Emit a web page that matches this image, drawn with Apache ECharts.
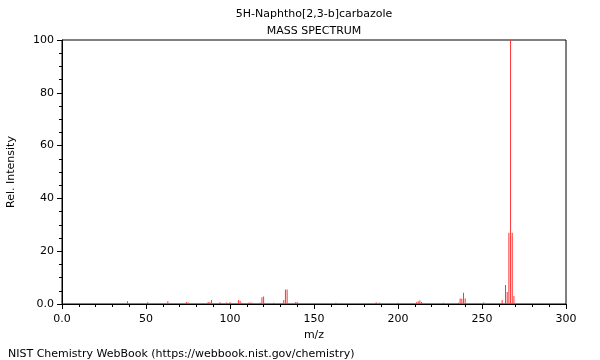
<!DOCTYPE html>
<html>
<head>
<meta charset="utf-8">
<script src="https://cdn.jsdelivr.net/npm/echarts@6/dist/echarts.min.js"></script>
<style>html,body{margin:0;padding:0;background:#fff}#c{width:600px;height:360px}</style>
</head>
<body>
<div id="c"></div>
<script>
const titleText = "5H-Naphtho[2,3-b]carbazole";
const subtitleText = "MASS SPECTRUM";
const footerText = "NIST Chemistry WebBook (https://webbook.nist.gov/chemistry)";
const xTickLabels = {0: "0.0"};
const yTickLabels = {0: "0.0"};
const mz = [39, 51, 63, 74, 75, 87, 88, 89, 94, 98, 100, 105, 106, 107, 111, 112, 113, 118, 119, 120, 126, 132, 133, 134, 139, 140, 163, 187, 189, 200, 211, 212, 213, 214, 227, 236, 237, 238, 239, 240, 251, 262, 264, 265, 266, 267, 268, 269];
const intensity = [1.0, 0.7, 1.0, 0.8, 0.6, 0.8, 0.7, 1.5, 0.7, 0.6, 0.7, 1.5, 1.2, 0.5, 0.5, 0.6, 0.5, 0.5, 2.6, 2.8, 0.5, 1.5, 5.5, 5.5, 0.7, 0.8, 0.5, 0.7, 0.5, 0.5, 0.7, 1.0, 1.3, 0.8, 0.5, 0.5, 2.1, 2.0, 4.3, 2.1, 0.6, 1.5, 7.2, 4.5, 27, 100, 27, 3.0];

const chart = echarts.init(document.getElementById('c'), null, {renderer: 'canvas'});
const font = 'DejaVu Sans';
chart.setOption({
  animation: false,
  backgroundColor: '#fff',
  title: [
    {text: titleText, left: 309, textAlign: 'center', top: 4, textStyle: {fontFamily: font, fontSize: 11, fontWeight: 'normal', color: '#000'}},
    {text: subtitleText, left: 309, textAlign: 'center', top: 21, textStyle: {fontFamily: font, fontSize: 11, fontWeight: 'normal', color: '#000'}},
    {text: footerText, left: 3, top: 344, textStyle: {fontFamily: font, fontSize: 11, fontWeight: 'normal', color: '#000'}}
  ],
  grid: {left: 62, right: 34, top: 40, bottom: 56, show: true, borderColor: '#000', borderWidth: 1, containLabel: false, outerBoundsMode: 'none'},
  xAxis: {
    type: 'value', min: 0, max: 300, interval: 50,
    name: 'm/z', nameLocation: 'middle', nameGap: 25,
    nameTextStyle: {fontFamily: font, fontSize: 11, color: '#000'},
    axisLine: {show: true, lineStyle: {color: '#000', width: 1}},
    axisTick: {show: true, length: 5, lineStyle: {color: '#000'}},
    minorTick: {show: true, splitNumber: 5, length: 3, lineStyle: {color: '#000'}},
    splitLine: {show: false},
    axisLabel: {fontFamily: font, fontSize: 11, color: '#000', margin: 10,
      formatter: v => (xTickLabels[v] !== undefined ? xTickLabels[v] : String(v))}
  },
  yAxis: {
    type: 'value', min: 0, max: 100, interval: 20,
    name: 'Rel. Intensity', nameLocation: 'middle', nameGap: 45, nameRotate: 90,
    nameTextStyle: {fontFamily: font, fontSize: 11, color: '#000'},
    axisLine: {show: true, lineStyle: {color: '#000', width: 1}},
    axisTick: {show: true, length: 5, lineStyle: {color: '#000'}},
    minorTick: {show: true, splitNumber: 4, length: 3, lineStyle: {color: '#000'}},
    splitLine: {show: false},
    axisLabel: {fontFamily: font, fontSize: 11, color: '#000', margin: 8,
      formatter: v => (yTickLabels[v] !== undefined ? yTickLabels[v] : String(v))}
  },
  series: [{
    type: 'bar',
    data: mz.map((m, i) => [m, intensity[i]]),
    barWidth: 1,
    itemStyle: {color: '#ff3333'},
    silent: true
  }]
});
</script>
</body>
</html>
